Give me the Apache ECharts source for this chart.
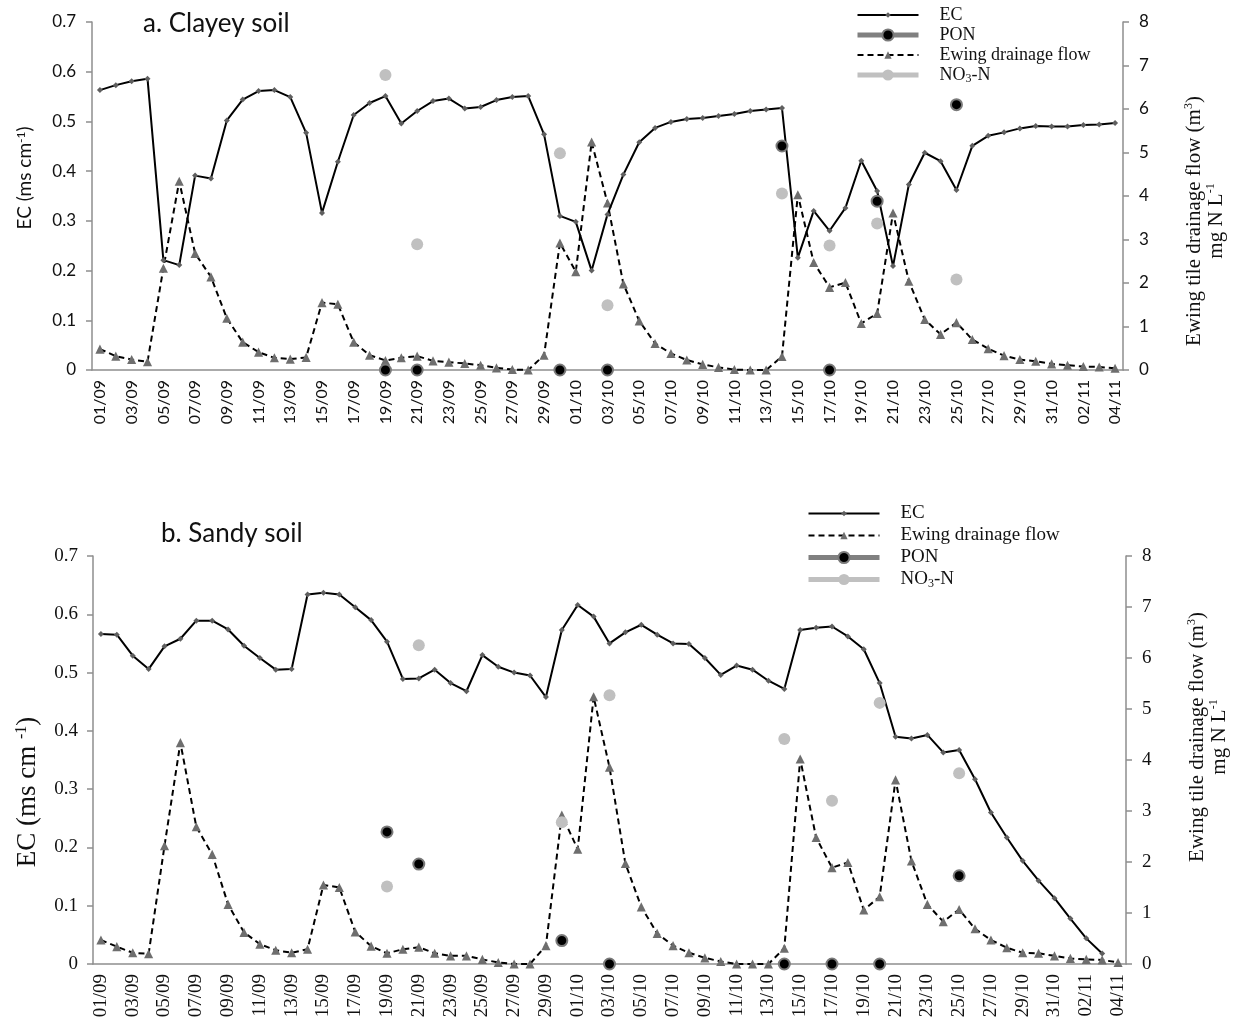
<!DOCTYPE html>
<html>
<head>
<meta charset="utf-8">
<script src="https://cdn.jsdelivr.net/npm/echarts@6/dist/echarts.min.js"></script>
<style>
  html, body { margin: 0; padding: 0; background: #fff; }
  #chart { width: 1246px; height: 1023px; }
</style>
</head>
<body>
<div id="chart"></div>
<script>
// Daily dates, 1 September to 4 November
var dates = [
  '01/09','02/09','03/09','04/09','05/09','06/09','07/09','08/09','09/09','10/09',
  '11/09','12/09','13/09','14/09','15/09','16/09','17/09','18/09','19/09','20/09',
  '21/09','22/09','23/09','24/09','25/09','26/09','27/09','28/09','29/09','30/09',
  '01/10','02/10','03/10','04/10','05/10','06/10','07/10','08/10','09/10','10/10',
  '11/10','12/10','13/10','14/10','15/10','16/10','17/10','18/10','19/10','20/10',
  '21/10','22/10','23/10','24/10','25/10','26/10','27/10','28/10','29/10','30/10',
  '31/10','01/11','02/11','03/11','04/11'
];

// Electrical conductivity (ms cm-1)
var ecClay = [
  0.563,0.573,0.581,0.586,0.221,0.211,0.391,0.385,0.502,0.544,
  0.561,0.563,0.549,0.477,0.316,0.419,0.513,0.537,0.551,0.496,
  0.521,0.541,0.546,0.526,0.529,0.543,0.549,0.551,0.474,0.310,
  0.298,0.200,0.313,0.393,0.458,0.487,0.499,0.505,0.507,0.511,
  0.515,0.521,0.524,0.527,0.226,0.320,0.280,0.326,0.421,0.360,
  0.209,0.373,0.437,0.420,0.362,0.451,0.471,0.478,0.486,0.491,
  0.490,0.490,0.493,0.494,0.497
];
var ecSandy = [
  0.566,0.565,0.529,0.506,0.545,0.558,0.589,0.589,0.574,0.546,
  0.525,0.505,0.506,0.634,0.637,0.634,0.612,0.590,0.553,0.489,
  0.490,0.505,0.482,0.468,0.530,0.510,0.500,0.495,0.458,0.573,
  0.616,0.596,0.550,0.569,0.582,0.565,0.550,0.549,0.525,0.496,
  0.512,0.505,0.486,0.472,0.573,0.577,0.579,0.562,0.540,0.482,
  0.390,0.387,0.393,0.363,0.367,0.317,0.260,0.217,0.177,0.143,
  0.113,0.078,0.044,0.018,null
];

// Ewing tile drainage flow (m3)
var flowClay = [
  0.48,0.32,0.24,0.19,2.34,4.34,2.68,2.14,1.19,0.64,
  0.41,0.28,0.25,0.29,1.55,1.51,0.64,0.34,0.22,0.28,
  0.32,0.21,0.18,0.15,0.11,0.05,0.01,0.00,0.34,2.92,
  2.26,5.24,3.84,1.98,1.13,0.61,0.38,0.23,0.13,0.06,
  0.01,0.00,0.00,0.31,4.03,2.47,1.90,2.01,1.07,1.30,
  3.61,2.04,1.16,0.82,1.09,0.70,0.49,0.33,0.24,0.20,
  0.14,0.11,0.08,0.07,0.04
];
var flowSandy = [
  0.47,0.34,0.22,0.20,2.32,4.34,2.69,2.15,1.17,0.62,
  0.39,0.27,0.22,0.29,1.55,1.50,0.63,0.35,0.21,0.29,
  0.33,0.21,0.16,0.16,0.09,0.03,0.00,0.00,0.36,2.92,
  2.25,5.24,3.86,1.97,1.12,0.60,0.36,0.22,0.12,0.05,
  0.00,0.00,0.00,0.31,4.02,2.48,1.89,1.99,1.06,1.32,
  3.61,2.02,1.17,0.83,1.07,0.69,0.47,0.32,0.22,0.21,
  0.16,0.11,0.09,0.08,0.03
];

// Water samples (mg N L-1)
var sampleDates = ['19/09','21/09','30/09','03/10','14/10','17/10','20/10','25/10'];
var ponClay  = [0, 0, 0, 0, 5.15, 0, 3.88, 6.10];
var no3Clay  = [6.78, 2.89, 4.98, 1.49, 4.06, 2.86, 3.37, 2.08];
var ponSandy = [2.59, 1.96, 0.46, 0, 0, 0, 0, 1.73];
var no3Sandy = [1.52, 6.25, 2.78, 5.27, 4.41, 3.20, 5.12, 3.74];

var leftTicks = [0, 0.1, 0.2, 0.3, 0.4, 0.5, 0.6, 0.7];
var rightTicks = [0, 1, 2, 3, 4, 5, 6, 7, 8];

// legend order of each panel
var legendClay = ['EC', 'PON', 'Ewing drainage flow', 'NO3-N'];
var legendSandy = ['EC', 'Ewing drainage flow', 'PON', 'NO3-N'];

// place sample values on the daily axis, gaps elsewhere
function onDays(values) {
  var out = dates.map(function () { return null; });
  sampleDates.forEach(function (d, k) { out[dates.indexOf(d)] = values[k]; });
  return out;
}

var SANS = 'Lato';
var SERIF = 'Liberation Serif';
var AXIS_GREY = '#8e8e8e';

// small markers drawn inside a 20x20 box, so the legend keeps them small too
var DIAMOND = 'path://M0,0M20,20M10,5L15,10L10,15L5,10Z';
var TRIANGLE = 'path://M0,0M20,20M10,3.5L16.5,16.5L3.5,16.5Z';

// thick legend strokes for the sample series
var legendStroke = { 'PON': 5, 'NO3-N': 5 };

function xAxisCfg(gridIndex, font, size, margin) {
  return {
    type: 'category', gridIndex: gridIndex, data: dates, boundaryGap: true,
    axisLine: { show: true, lineStyle: { color: AXIS_GREY, width: 1.5 } },
    axisTick: { show: false },
    axisLabel: { interval: 1, rotate: 90, margin: margin, color: '#111',
                 fontFamily: font, fontSize: size }
  };
}

function yAxisCfg(gridIndex, pos, ticks, font, size, margin, fmt) {
  return {
    type: 'value', gridIndex: gridIndex, position: pos,
    min: ticks[0], max: ticks[ticks.length - 1], interval: ticks[1] - ticks[0],
    splitLine: { show: false },
    axisLine: { show: true, lineStyle: { color: AXIS_GREY, width: 1.5 } },
    axisTick: { show: true, inside: false, length: 6, lineStyle: { color: AXIS_GREY, width: 1.5 } },
    axisLabel: { color: '#111', fontFamily: font, fontSize: size, margin: margin, formatter: fmt }
  };
}

var fmtLeft = function (v) { return v === 0 ? '0' : v.toFixed(1); };
var fmtRight = function (v) { return String(Math.round(v)); };

var yA0 = yAxisCfg(0, 'left', leftTicks, SANS, 17, 16, fmtLeft);
yA0.name = 'EC (ms cm{sup|-1})';
yA0.nameLocation = 'middle';
yA0.nameGap = 58;
yA0.nameTextStyle = { fontFamily: SANS, fontSize: 19, color: '#111', padding: [0, 0, 0, 36],
  rich: { sup: { fontFamily: SANS, fontSize: 12, verticalAlign: 'top', lineHeight: 19 } } };

var yA1 = yAxisCfg(0, 'right', rightTicks, SANS, 17, 16, fmtRight);
yA1.name = 'Ewing tile drainage flow (m{sup|3})\nmg N L{sup|-1}';
yA1.nameLocation = 'middle';
yA1.nameGap = 60;
yA1.nameTextStyle = { fontFamily: SERIF, fontSize: 21, color: '#111', lineHeight: 22, padding: [0, 50, 0, 0],
  rich: { sup: { fontFamily: SERIF, fontSize: 12, verticalAlign: 'top', lineHeight: 22 } } };

var yB0 = yAxisCfg(1, 'left', leftTicks, SERIF, 19, 15, fmtLeft);
yB0.name = 'EC (ms cm {sup|-1})';
yB0.nameLocation = 'middle';
yB0.nameGap = 52;
yB0.nameTextStyle = { fontFamily: SERIF, fontSize: 27, color: '#111', padding: [0, 64, 0, 0],
  rich: { sup: { fontFamily: SERIF, fontSize: 16, verticalAlign: 'top', lineHeight: 27 } } };

var yB1 = yAxisCfg(1, 'right', rightTicks, SERIF, 19, 16, fmtRight);
yB1.name = 'Ewing tile drainage flow (m{sup|3})\nmg N L{sup|-1}';
yB1.nameLocation = 'middle';
yB1.nameGap = 60;
yB1.nameTextStyle = { fontFamily: SERIF, fontSize: 21, color: '#111', lineHeight: 22, padding: [0, 0, 0, 46],
  rich: { sup: { fontFamily: SERIF, fontSize: 12, verticalAlign: 'top', lineHeight: 22 } } };

function ecSeries(data, xi, yi) {
  return { name: 'EC', type: 'line', xAxisIndex: xi, yAxisIndex: yi, data: data,
    showAllSymbol: true, symbol: DIAMOND, symbolSize: 12,
    lineStyle: { color: '#000', width: 2 }, itemStyle: { color: '#5f5f5f' }, z: 3 };
}
function flowSeries(data, xi, yi) {
  return { name: 'Ewing drainage flow', type: 'line', xAxisIndex: xi, yAxisIndex: yi, data: data,
    showAllSymbol: true, symbol: TRIANGLE, symbolSize: 14,
    lineStyle: { color: '#000', width: 2, type: [6, 4] }, itemStyle: { color: '#6e6e6e' }, z: 2 };
}
function ponSeries(data, xi, yi) {
  return { name: 'PON', type: 'line', xAxisIndex: xi, yAxisIndex: yi, data: onDays(data),
    showAllSymbol: true, symbol: 'circle', symbolSize: 11,
    lineStyle: { color: '#808080', width: 5 },
    itemStyle: { color: '#000', borderColor: '#7a7a7a', borderWidth: 2 }, z: 5 };
}
function no3Series(data, xi, yi) {
  return { name: 'NO3-N', type: 'line', xAxisIndex: xi, yAxisIndex: yi, data: onDays(data),
    showAllSymbol: true, symbol: 'circle', symbolSize: 12,
    lineStyle: { color: '#c0c0c0', width: 5 },
    itemStyle: { color: '#c0c0c0' }, z: 4 };
}

function legendCfg(names, left, top, gap, width, size) {
  return {
    data: names.map(function (n) {
      return legendStroke[n] ? { name: n, lineStyle: { width: legendStroke[n] } } : { name: n };
    }),
    orient: 'vertical', left: left, top: top, padding: 5,
    itemWidth: width, itemHeight: 14, itemGap: gap,
    textStyle: { fontFamily: SERIF, fontSize: size, color: '#111', padding: [0, 0, 0, 16],
      rich: {
        t: { fontFamily: SERIF, fontSize: size, color: '#111' },
        sub: { fontFamily: SERIF, fontSize: 12, color: '#111', verticalAlign: 'bottom', lineHeight: size + 2 }
      } },
    formatter: function (n) {
      return n === 'NO3-N' ? '{t|NO}{sub|3}{t|-N}' : '{t|' + n + '}';
    }
  };
}

var chart = echarts.init(document.getElementById('chart'), null, { renderer: 'canvas' });
chart.setOption({
  animation: false,
  backgroundColor: '#fff',
  title: [
    { text: 'a. Clayey soil', left: 138, top: 6,
      textStyle: { fontFamily: SANS, fontSize: 26, fontWeight: 'normal', color: '#111' } },
    { text: 'b. Sandy soil', left: 156, top: 516,
      textStyle: { fontFamily: SANS, fontSize: 26, fontWeight: 'normal', color: '#111' } }
  ],
  legend: [
    legendCfg(legendClay, 850, 1, 2, 61, 18),
    legendCfg(legendSandy, 801, 499, 3, 71, 19)
  ],
  grid: [
    { left: 92, top: 22, width: 1031, height: 348 },
    { left: 93, top: 556, width: 1033, height: 408 }
  ],
  xAxis: [
    xAxisCfg(0, SANS, 16, 10),
    xAxisCfg(1, SERIF, 19, 10)
  ],
  yAxis: [yA0, yA1, yB0, yB1],
  series: [
    ecSeries(ecClay, 0, 0),
    flowSeries(flowClay, 0, 1),
    ponSeries(ponClay, 0, 1),
    no3Series(no3Clay, 0, 1),
    ecSeries(ecSandy, 1, 2),
    flowSeries(flowSandy, 1, 3),
    ponSeries(ponSandy, 1, 3),
    no3Series(no3Sandy, 1, 3)
  ]
});
</script>
</body>
</html>
